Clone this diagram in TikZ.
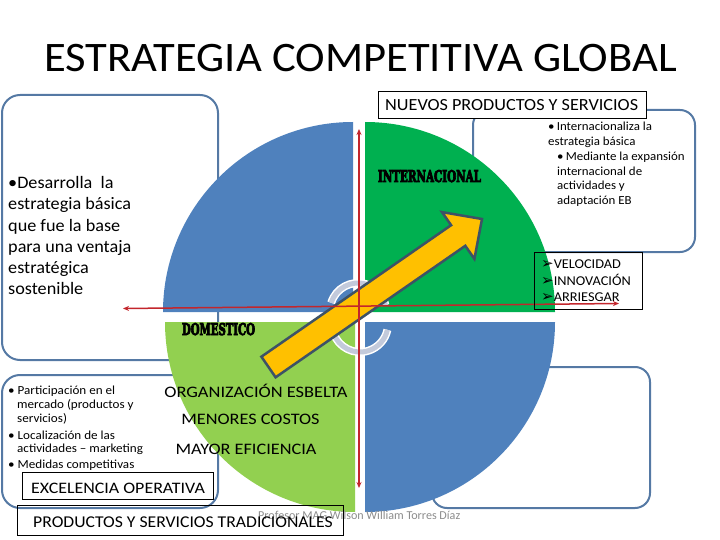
\documentclass[tikz,border=0pt]{standalone}
\usepackage{fontspec}
\usepackage{graphicx}
\setmainfont{Carlito}
\newfontfamily\symfont{DejaVu Sans}
\newfontfamily\heavyfont{DejaVu Serif}[BoldFeatures={FakeBold=6}]
\usetikzlibrary{arrows.meta}
\definecolor{qblue}{HTML}{4F81BD}
\definecolor{qgreen}{HTML}{00B050}
\definecolor{qlgreen}{HTML}{92D050}
\definecolor{arrowyellow}{HTML}{FFC000}
\definecolor{arrowedge}{HTML}{3D5266}
\definecolor{boxblue}{HTML}{5579A4}
\definecolor{axisred}{HTML}{C3262C}
\definecolor{ringgray}{HTML}{C3CADB}
\definecolor{wmgray}{HTML}{8C8C8C}
\newcommand{\hstretch}[2]{\scalebox{#1}[1]{#2}}
\newcommand{\arrbul}{{\symfont\fontsize{15}{15}\selectfont ➢}}
\begin{document}
\begin{tikzpicture}[x=1pt,y=-1pt,
  roundbox/.style={draw=boxblue,line width=2pt,rounded corners=18pt},
  plainbox/.style={draw=black,line width=0.8pt},
  txt/.style={inner sep=0pt,anchor=base west},
  ctxt/.style={inner sep=0pt,anchor=base},
  redaxis/.style={draw=axisred,line width=1.5pt,{Stealth[length=6pt,width=5pt]}-{Stealth[length=6pt,width=5pt]}},
  ring/.style={draw=ringgray,line width=5pt},
  ringedge/.style={draw=white,line width=8pt},
  bigarrow/.style={fill=arrowyellow,draw=arrowedge,line width=2.5pt,line join=miter},
  f17/.style={font=\fontsize{17.5}{21}\selectfont},
  f12/.style={font=\fontsize{12.3}{14}\selectfont},
  f16/.style={font=\fontsize{16}{18}\selectfont}
]
\useasboundingbox (0,0) rectangle (720,540);
% rounded boxes (behind)
\draw[roundbox] (2,95) rectangle (218,360);
\draw[roundbox] (2,375) rectangle (218,508);
\draw[roundbox,rounded corners=15pt] (473,110) rectangle (695,252);
\draw[roundbox,rounded corners=15pt] (432,367) rectangle (650,508);
% quadrants
\fill[qblue] (353,312) -- ++(-190pt,0pt) arc[start angle=180,end angle=90,radius=190pt] -- cycle;
\fill[qgreen] (365,312) -- ++(0pt,190pt) arc[start angle=90,end angle=0,radius=190pt] -- cycle;
\fill[qlgreen] (355,322) -- ++(-190pt,0pt) arc[start angle=180,end angle=270,radius=190pt] -- cycle;
\fill[qblue] (365,322) -- ++(190pt,0pt) arc[start angle=0,end angle=-90,radius=190pt] -- cycle;
% circular rings
\draw[ringedge] ([shift={(163:28pt)}]358,311) arc[start angle=163,end angle=12,radius=28pt];
\draw[ring] ([shift={(163:28pt)}]358,311) arc[start angle=163,end angle=12,radius=28pt];
\draw[ringedge] ([shift={(198:28pt)}]360,324) arc[start angle=198,end angle=348,radius=28pt];
\draw[ring] ([shift={(198:28pt)}]360,324) arc[start angle=198,end angle=348,radius=28pt];
% big arrow
\draw[bigarrow] (261.4,356.7) -- (451.1,225.2) -- (442,212.1) -- (482,219) -- (474.4,258.9) -- (465.3,245.8) -- (275.6,377.3) -- cycle;
% axes
\coordinate (vtop) at (359,129);
\coordinate (vbot) at (359,488);
\coordinate (hleft) at (123,308.5);
\coordinate (hright) at (619,303.5);
\draw[redaxis] (vbot) -- (vtop);
\draw[redaxis] (hleft) -- (hright);
% title
\node[ctxt,font=\fontsize{42}{42}\selectfont] (title) at (360.5,72) {\hstretch{1.062}{ESTRATEGIA COMPETITIVA GLOBAL}};
% quadrant labels
\node[ctxt,text=black] (intl) at (429.5,182) {\resizebox{103pt}{12pt}{\heavyfont\bfseries INTERNACIONAL}};
\node[ctxt,text=black] (dom) at (218.5,335) {\resizebox{73pt}{12pt}{\heavyfont\bfseries DOMESTICO}};
% top label box
\node[plainbox,fill=white,minimum width=268pt,minimum height=27pt,inner sep=0pt] (nuevos) at (512,104.5) {};
\node[txt,font=\fontsize{17}{17}\selectfont] (nuevost) at (385,110.5) {\hstretch{1.07}{NUEVOS PRODUCTOS Y SERVICIOS}};
% left text
\foreach \t [count=\i] in {{\textbullet Desarrolla\ \ la},{estrategia básica},{que fue la base},{para una ventaja},{estratégica},{sostenible}}{
  \node[txt,f17] (lt\i) at (8,{189+21*(\i-1)}) {\hstretch{1.04}{\t}};
}
% top-right text
\node[txt,f12] (tr1) at (548,131) {\hstretch{1.05}{\textbullet\,Internacionaliza la}};
\node[txt,f12] (tr2) at (548,145.5) {\hstretch{1.05}{estrategia básica}};
\node[txt,f12] (tr3) at (557,161) {\hstretch{1.05}{\textbullet\,Mediante la expansión}};
\node[txt,f12] (tr4) at (557,175.5) {\hstretch{1.05}{internacional de}};
\node[txt,f12] (tr5) at (557,190) {\hstretch{1.05}{actividades y}};
\node[txt,f12] (tr6) at (557,204.5) {\hstretch{1.05}{adaptación EB}};
% velocidad box
\node[plainbox,minimum width=108pt,minimum height=57pt,inner sep=0pt] (velbox) at (588,280.5) {};
\node[txt,font=\fontsize{13.5}{17}\selectfont] (v1) at (541,268) {\arrbul\hstretch{1.06}{VELOCIDAD}};
\node[txt,font=\fontsize{13.5}{17}\selectfont] (v2) at (541,285) {\arrbul\hstretch{1.06}{INNOVACIÓN}};
\node[txt,font=\fontsize{13.5}{17}\selectfont] (v3) at (541,301.5) {\arrbul\hstretch{1.06}{ARRIESGAR}};
% bottom-left bullets
\node[txt,f12] (bl1) at (8,394) {\hstretch{1.065}{\textbullet\ Participación en el}};
\node[txt,f12] (bl2) at (17,408) {\hstretch{1.065}{mercado (productos y}};
\node[txt,f12] (bl3) at (17,422) {\hstretch{1.065}{servicios)}};
\node[txt,f12] (bl4) at (8,439) {\hstretch{1.065}{\textbullet\ Localización de las}};
\node[txt,f12] (bl5) at (17,452.5) {\hstretch{1.065}{actividades -- marketing}};
\node[txt,f12] (bl6) at (8,468) {\hstretch{1.065}{\textbullet\ Medidas competitivas}};
% center lower texts
\node[ctxt,f16] (org) at (256,397) {\hstretch{1.15}{ORGANIZACIÓN ESBELTA}};
\node[ctxt,f16] (men) at (250.5,424.5) {\hstretch{1.14}{MENORES COSTOS}};
\node[ctxt,f16] (may) at (246,454) {\hstretch{1.14}{MAYOR EFICIENCIA}};
% watermark
\node[txt,text=wmgray,font=\fontsize{12.1}{12}\selectfont] (wm) at (258,519.5) {Profesor MAG Wilson William Torres Díaz};
% bottom boxes
\node[plainbox,minimum width=191pt,minimum height=27pt,inner sep=0pt] (exc) at (117.5,486) {};
\node[txt,f16] (exct) at (31,493.5) {\hstretch{1.12}{EXCELENCIA OPERATIVA}};
\node[plainbox,minimum width=326pt,minimum height=30pt,inner sep=0pt] (trad) at (180,520) {};
\node[txt,font=\fontsize{16.5}{16}\selectfont] (tradt) at (33,527.5) {\hstretch{1.07}{PRODUCTOS Y SERVICIOS TRADICIONALES}};
\end{tikzpicture}
\end{document}
